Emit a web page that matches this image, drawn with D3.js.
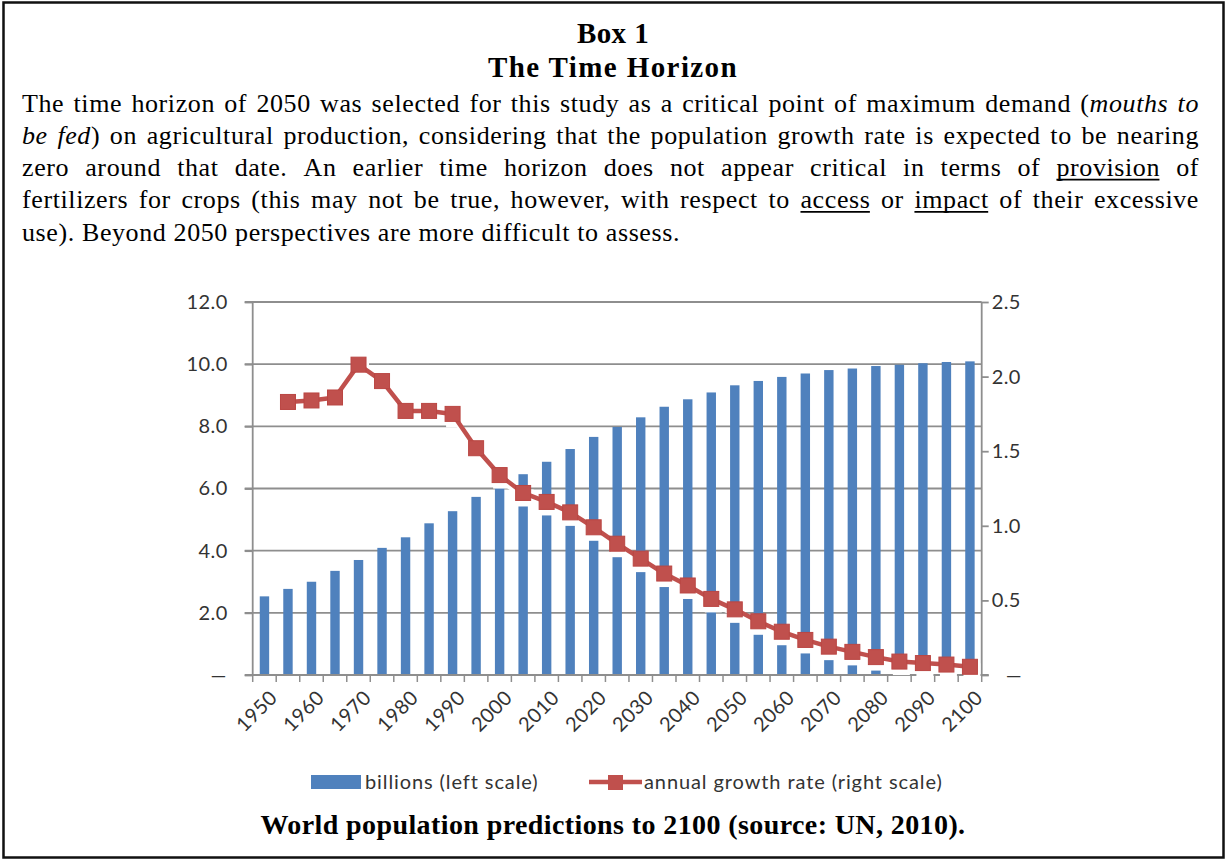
<!DOCTYPE html>
<html>
<head>
<meta charset="utf-8">
<script src="https://cdn.jsdelivr.net/npm/d3@7"></script>
<style>
  html, body { margin: 0; padding: 0; background: #fff; }
  svg { display: block; }
</style>
</head>
<body>
<svg id="box" width="1226" height="859"></svg>
<script>
// ---- data -------------------------------------------------------------
const years = ["1950","1955","1960","1965","1970","1975","1980","1985","1990","1995",
  "2000","2005","2010","2015","2020","2025","2030","2035","2040","2045",
  "2050","2055","2060","2065","2070","2075","2080","2085","2090","2095","2100"];

// world population, billions (left scale)
const population = [2.53, 2.77, 3.00, 3.35, 3.70, 4.09, 4.43, 4.88, 5.27, 5.73,
  6.14, 6.46, 6.86, 7.27, 7.66, 7.98, 8.29, 8.63, 8.87, 9.09,
  9.32, 9.46, 9.59, 9.70, 9.81, 9.86, 9.94, 9.98, 10.03, 10.07, 10.09];

// annual growth rate, % (right scale), per five-year period ending in the year
const growthYears = ["1955","1960","1965","1970","1975","1980","1985","1990","1995",
  "2000","2005","2010","2015","2020","2025","2030","2035","2040","2045",
  "2050","2055","2060","2065","2070","2075","2080","2085","2090","2095","2100"];
const growthRate = [1.83, 1.84, 1.86, 2.08, 1.97, 1.77, 1.77, 1.75, 1.52,
  1.34, 1.22, 1.16, 1.09, 0.99, 0.88, 0.78, 0.68, 0.60, 0.51,
  0.44, 0.36, 0.29, 0.235, 0.19, 0.155, 0.12, 0.09, 0.08, 0.07, 0.055];

const leftTicks = [0, 2, 4, 6, 8, 10, 12];
const rightTicks = [0, 0.5, 1.0, 1.5, 2.0, 2.5];
const yearLabels = ["1950","1960","1970","1980","1990","2000","2010","2020",
  "2030","2040","2050","2060","2070","2080","2090","2100"];

const titleLines = ["Box 1", "The Time Horizon"];
// *...* italic, _..._ underlined
const bodyLines = [
  "The time horizon of 2050 was selected for this study as a critical point of maximum demand (*mouths* *to*",
  "*be* *fed*) on agricultural production, considering that the population growth rate is expected to be nearing",
  "zero around that date. An earlier time horizon does not appear critical in terms of _provision_ of",
  "fertilizers for crops (this may not be true, however, with respect to _access_ or _impact_ of their excessive",
  "use). Beyond 2050 perspectives are more difficult to assess."
];
const legendLabels = ["billions (left scale)", "annual growth rate (right scale)"];
const caption = "World population predictions to 2100 (source: UN, 2010).";

// ---- setup ------------------------------------------------------------
const svg = d3.select("#box");
const serif = "'Liberation Serif', 'Times New Roman', serif";
const sans = "Lato, Carlito, Calibri, sans-serif";
const BLUE = "#4F81BD", RED = "#C0504D", GRID = "#8E8E8E", INK = "#333333";

// frame
svg.append("rect")
  .attr("x", 3.5).attr("y", 2.5).attr("width", 1220).attr("height", 855)
  .attr("fill", "#fff").attr("stroke", "#111").attr("stroke-width", 2.5);

// heading
svg.selectAll("text.title").data(titleLines).join("text")
  .attr("class", "title")
  .attr("x", 613).attr("y", (d, i) => 43 + i * 34)
  .attr("text-anchor", "middle")
  .attr("font-family", serif).attr("font-weight", "bold").attr("font-size", 29)
  .attr("letter-spacing", (d, i) => i ? 1.4 : 0.4)
  .attr("fill", "#000")
  .text(d => d);

// justified paragraph
const textLeft = 22, textRight = 1199, bodySize = 26;
const body = svg.append("g").attr("font-family", serif).attr("font-size", bodySize)
  .attr("letter-spacing", 0.6).attr("fill", "#000");
const spaceW = (() => {
  const t = body.append("text").text("a a");
  const t2 = body.append("text").text("aa");
  const w = t.node().getComputedTextLength() - t2.node().getComputedTextLength();
  t.remove(); t2.remove();
  return w;
})();

bodyLines.forEach((line, li) => {
  const y = 111.5 + li * 32.3;
  const justify = li < bodyLines.length - 1;
  const words = line.split(" ");
  const nodes = words.map(w => {
    const t = body.append("text").attr("y", y);
    let underline = false;
    w.split(/(\*[^*]*\*|_[^_]*_)/).filter(s => s.length).forEach(p => {
      const ts = t.append("tspan");
      if (p[0] === "*") ts.text(p.slice(1, -1)).attr("font-style", "italic");
      else if (p[0] === "_") { ts.text(p.slice(1, -1)); underline = true; }
      else ts.text(p);
    });
    return { t, underline };
  });
  const widths = nodes.map(n => n.t.node().getComputedTextLength());
  const gap = justify ? (textRight - textLeft - d3.sum(widths)) / (words.length - 1) : spaceW;
  let x = textLeft;
  nodes.forEach((n, i) => {
    n.t.attr("x", x);
    if (n.underline) {
      body.append("line")
        .attr("x1", x).attr("x2", x + widths[i] - 0.6)
        .attr("y1", y + 3.5).attr("y2", y + 3.5)
        .attr("stroke", "#000").attr("stroke-width", 1.6);
    }
    x += widths[i] + gap;
  });
});

// ---- chart ------------------------------------------------------------
const plot = { left: 252.7, right: 981.7, top: 302, bottom: 675 };

const x = d3.scaleBand().domain(years)
  .range([plot.left, plot.right]).paddingInner(0.6).paddingOuter(0.3);
const xc = d => x(d) + x.bandwidth() / 2;
const step = x.step();
const yL = d3.scaleLinear().domain([0, 12]).range([plot.bottom, plot.top]);
const yR = d3.scaleLinear().domain([0, 2.5]).range([plot.bottom, plot.top]);

const chart = svg.append("g");

// horizontal gridlines (left scale)
chart.append("g").selectAll("line").data(leftTicks.filter(d => d > 0)).join("line")
  .attr("x1", plot.left - 8).attr("x2", plot.right)
  .attr("y1", d => yL(d)).attr("y2", d => yL(d))
  .attr("stroke", GRID).attr("stroke-width", 1.8);

// bars
chart.append("g").selectAll("rect").data(years).join("rect")
  .attr("x", d => x(d))
  .attr("width", x.bandwidth())
  .attr("y", (d, i) => yL(population[i]))
  .attr("height", (d, i) => yL(0) - yL(population[i]))
  .attr("fill", BLUE);

// left axis
const axL = d3.axisLeft(yL).tickValues(leftTicks).tickSize(8).tickPadding(17)
  .tickFormat(d => d === 0 ? "\u2014" : d.toFixed(1));
const gL = chart.append("g").attr("transform", `translate(${plot.left},0)`).call(axL);

// right axis
const axR = d3.axisRight(yR).tickValues(rightTicks).tickSize(7).tickPadding(3)
  .tickFormat(d => d === 0 ? "\u2014" : d.toFixed(1));
const gR = chart.append("g").attr("transform", `translate(${plot.right},0)`).call(axR);

// bottom axis: ticks on category boundaries, labels every ten years
const axB = d3.axisBottom(x).tickValues(yearLabels).tickSize(0).tickPadding(0);
const gB = chart.append("g").attr("transform", `translate(0,${plot.bottom})`).call(axB);
chart.append("g").selectAll("line").data(years.concat(["end"])).join("line")
  .attr("x1", (d, i) => plot.left + i * step).attr("x2", (d, i) => plot.left + i * step)
  .attr("y1", plot.bottom).attr("y2", plot.bottom + 7)
  .attr("stroke", GRID).attr("stroke-width", 1.5);

[gL, gR, gB].forEach(g => {
  g.selectAll(".domain").attr("stroke", GRID).attr("stroke-width", 1.8);
  g.selectAll(".tick line").attr("stroke", GRID).attr("stroke-width", 1.8);
  g.selectAll("text").attr("font-family", sans).attr("font-size", 20)
    .attr("letter-spacing", 0.4).attr("fill", INK);
});
gB.selectAll(".tick text")
  .attr("text-anchor", "end")
  .attr("transform", "translate(9,19) rotate(-45)")
  .attr("dy", "0.35em").attr("y", 0).attr("x", 0);
gL.select(".domain").attr("d", `M0,${plot.top}V${plot.bottom}`);
gR.select(".domain").attr("d", `M0,${plot.top}V${plot.bottom}`);
gB.select(".domain").attr("d", `M${plot.left - 8},0H${plot.right + 7}`);
// zero labels sit a little inward
gL.selectAll(".tick").filter(d => d === 0).select("text").attr("x", -26);
gR.selectAll(".tick").filter(d => d === 0).select("text").attr("x", 24);

// growth-rate line with a pale drop shadow
const line = d3.line().x(d => xc(d)).y((d, i) => yR(growthRate[i]));
const shadow = chart.append("g").attr("transform", "translate(2,5)");
shadow.append("path").datum(growthYears).attr("d", line)
  .attr("fill", "none").attr("stroke", "#fff").attr("stroke-width", 6).attr("stroke-linejoin", "round");
shadow.selectAll("rect").data(growthYears).join("rect")
  .attr("x", d => xc(d) - 8.5).attr("y", (d, i) => yR(growthRate[i]) - 8.5)
  .attr("width", 17).attr("height", 17).attr("fill", "#fff");

const lineG = chart.append("g");
lineG.append("path").datum(growthYears).attr("d", line)
  .attr("fill", "none").attr("stroke", RED).attr("stroke-width", 4.5).attr("stroke-linejoin", "round");
lineG.selectAll("rect").data(growthYears).join("rect")
  .attr("x", d => xc(d) - 7.5).attr("y", (d, i) => yR(growthRate[i]) - 7.5)
  .attr("width", 15).attr("height", 15)
  .attr("fill", RED).attr("stroke", "#BA4643").attr("stroke-width", 1);

// legend
const leg = svg.append("g").attr("font-family", sans).attr("font-size", 20)
  .attr("letter-spacing", 0.9).attr("fill", INK);
leg.append("rect").attr("x", 311).attr("y", 775).attr("width", 50).attr("height", 14).attr("fill", BLUE);
leg.append("text").attr("x", 365).attr("y", 789).text(legendLabels[0]);
leg.append("line").attr("x1", 589).attr("x2", 642).attr("y1", 782).attr("y2", 782)
  .attr("stroke", RED).attr("stroke-width", 4.5);
leg.append("rect").attr("x", 608).attr("y", 775).attr("width", 15).attr("height", 15).attr("fill", RED);
leg.append("text").attr("x", 644).attr("y", 789).text(legendLabels[1]);

// caption
svg.append("text")
  .attr("x", 613).attr("y", 834).attr("text-anchor", "middle")
  .attr("font-family", serif).attr("font-weight", "bold").attr("font-size", 28)
  .attr("letter-spacing", 0.4)
  .attr("fill", "#000")
  .text(caption);
</script>
</body>
</html>
